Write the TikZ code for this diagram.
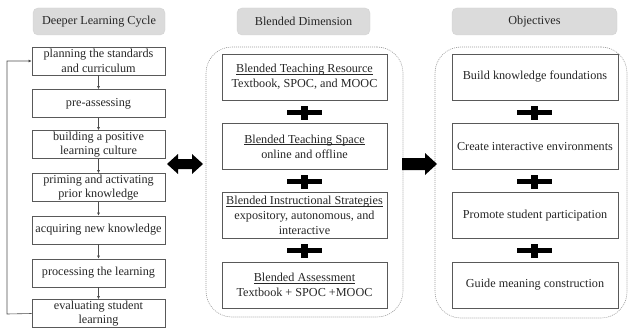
\documentclass[tikz,border=0pt]{standalone}
\usepackage{fontspec}
\setmainfont{Liberation Serif}
\usetikzlibrary{arrows.meta}
\newcommand{\myul}[1]{\setbox0\hbox{#1}\rlap{\rule[-1.7pt]{\wd0}{0.5pt}}\box0}
\begin{document}
\begin{tikzpicture}[x=1pt,y=-1pt,
  every node/.style={font=\fontsize{12.2}{14.8}\selectfont, text=black!85, align=center, inner sep=1pt},
  hdr/.style={fill=gray!28, draw=gray!35, rounded corners=5pt, minimum height=27pt},
  cyc/.style={draw=black!65, line width=0.7pt, minimum width=133pt, minimum height=28pt},
  blk/.style={draw=black!65, line width=0.7pt, minimum width=165pt, minimum height=46pt},
  outer/.style={draw=gray!80, line width=0.6pt, dash pattern=on 1pt off 1pt, rounded corners=26pt},
  arr/.style={draw=black!70, line width=0.6pt, -{Latex[length=3pt,width=3pt]}},
  bigarrow/.style={fill=black}
]
\useasboundingbox (0,0) rectangle (628,329);

% headers
\node[hdr, minimum width=132pt] (h1) at (99,21.5) {Deeper Learning Cycle};
\node[hdr, minimum width=133pt] (h2) at (303.5,21.5) {Blended Dimension};
\node[hdr, minimum width=165pt] (h3) at (534.5,21.5) {Objectives};

% cycle
\node[cyc] (c1) at (98.5,61) {planning the standards\\and curriculum};
\node[cyc] (c2) at (98.5,103.5) {pre-assessing};
\node[cyc] (c3) at (98.5,144.5) {building a positive\\learning culture};
\node[cyc] (c4) at (98.5,187.5) {priming and activating\\prior knowledge};
\node[cyc] (c5) at (98.5,230) {acquiring new knowledge};
\node[cyc] (c6) at (98.5,273) {processing the learning};
\node[cyc] (c7) at (98.5,313.5) {evaluating student\\learning};
\foreach \a/\b in {c1/c2,c2/c3,c3/c4,c4/c5,c5/c6,c6/c7}
  \draw[arr] (\a) -- (\b);
\coordinate (fb) at (7,314);
\draw[arr] (c7.west) -- (fb) |- (c1.west);

% middle
\node[outer, minimum width=197pt, minimum height=270pt] (o2) at (304.5,182) {};
\node[blk] (b1) at (304.5,77) {\myul{Blended Teaching Resource}\\Textbook, SPOC, and MOOC};
\node[blk] (b2) at (304.5,146.5) {\myul{Blended Teaching Space}\\online and offline};
\node[blk] (b3) at (304.5,215.5) {\myul{Blended Instructional Strategies}\\expository, autonomous, and\\interactive};
\node[blk] (b4) at (304.5,285) {\myul{Blended Assessment}\\Textbook + SPOC +MOOC};

% right
\node[outer, minimum width=192pt, minimum height=271pt] (o3) at (531,182.5) {};
\node[blk, minimum width=166pt] (r1) at (535,77) {Build knowledge foundations};
\node[blk, minimum width=166pt] (r2) at (535,146.5) {Create interactive environments};
\node[blk, minimum width=166pt] (r3) at (535,215.5) {Promote student participation};
\node[blk, minimum width=166pt] (r4) at (535,285) {Guide meaning construction};

% plus signs
\foreach \cx in {304.5,534}{
  \foreach \cy in {112.5,181.5,250.5}{
    \fill (\cx-17.5,\cy-2.5) rectangle (\cx+17.5,\cy+2.5);
    \fill (\cx-3.5,\cy-7) rectangle (\cx+3.5,\cy+7);
  }
}

% double arrow
\fill[bigarrow] (167,164) -- (178,154) -- (178,159) -- (192,159) -- (192,154) -- (203,164)
  -- (192,174) -- (192,169) -- (178,169) -- (178,174) -- cycle;
% right arrow
\fill[bigarrow] (402,158) -- (425,158) -- (425,153) -- (437,164) -- (425,175) -- (425,170) -- (402,170) -- cycle;
\end{tikzpicture}
\end{document}
